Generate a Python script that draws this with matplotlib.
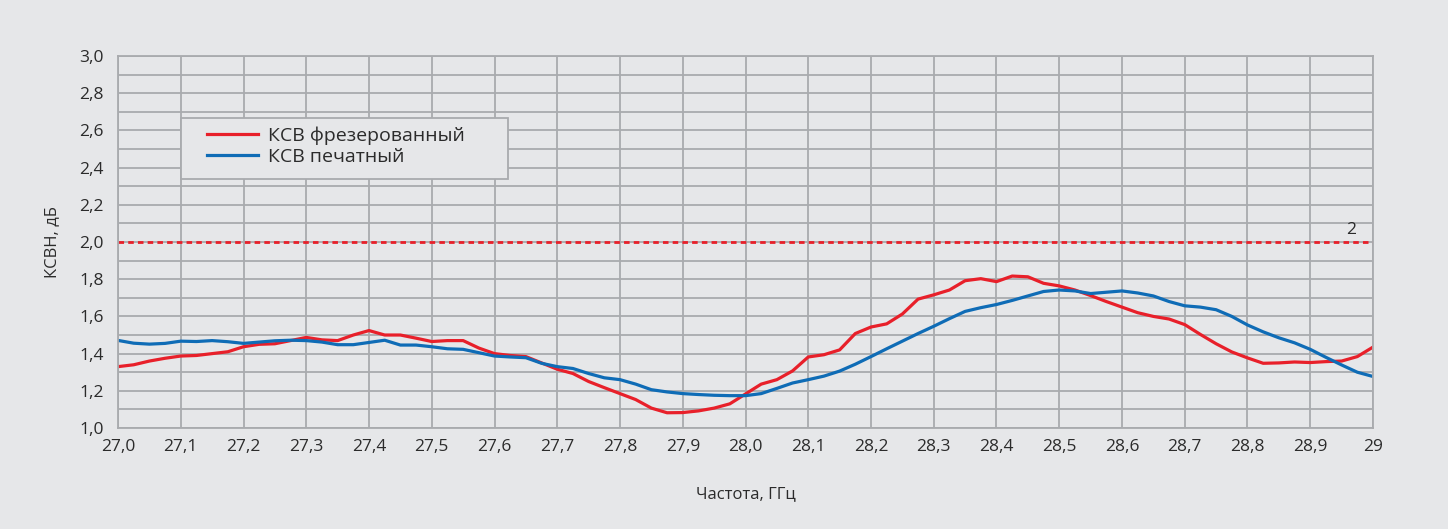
import matplotlib
matplotlib.use("Agg")
import matplotlib.pyplot as plt
from matplotlib.patches import Rectangle
from matplotlib.ticker import MultipleLocator, FixedLocator

plt.rcParams["font.family"] = ["Open Sans", "DejaVu Sans"]

BG = "#e6e7e9"
GRID = "#a9abae"
TEXT = "#2b2b2b"
RED = "#e8202a"
BLUE = "#0f6cb6"

freq = [27.0 + 0.025 * i for i in range(81)]

vswr_milled = [
    1.33, 1.34, 1.36, 1.375, 1.387, 1.39, 1.40, 1.41, 1.437, 1.45,
    1.453, 1.47, 1.487, 1.474, 1.47, 1.50, 1.524, 1.50, 1.50, 1.483,
    1.465, 1.47, 1.47, 1.43, 1.40, 1.39, 1.384, 1.35, 1.316, 1.293,
    1.25, 1.217, 1.185, 1.153, 1.107, 1.082, 1.083, 1.092, 1.107, 1.13,
    1.183, 1.236, 1.26, 1.307, 1.382, 1.394, 1.42, 1.508, 1.543, 1.56,
    1.613, 1.693, 1.716, 1.742, 1.792, 1.803, 1.787, 1.817, 1.813, 1.778,
    1.764, 1.742, 1.712, 1.68, 1.65, 1.62, 1.60, 1.586, 1.556, 1.503,
    1.453, 1.409, 1.377, 1.348, 1.35, 1.355, 1.352, 1.357, 1.36, 1.384,
    1.435,
]

vswr_printed = [
    1.471, 1.456, 1.451, 1.455, 1.467, 1.465, 1.47, 1.464, 1.455, 1.462,
    1.469, 1.472, 1.47, 1.462, 1.448, 1.448, 1.46, 1.472, 1.446, 1.446,
    1.437, 1.426, 1.423, 1.405, 1.387, 1.382, 1.378, 1.348, 1.33, 1.32,
    1.293, 1.27, 1.26, 1.236, 1.206, 1.194, 1.185, 1.18, 1.176, 1.174,
    1.174, 1.185, 1.213, 1.242, 1.26, 1.279, 1.306, 1.343, 1.384, 1.426,
    1.467, 1.508, 1.547, 1.588, 1.627, 1.647, 1.664, 1.686, 1.71, 1.734,
    1.742, 1.737, 1.723, 1.73, 1.737, 1.726, 1.71, 1.68, 1.657, 1.65,
    1.636, 1.60, 1.554, 1.517, 1.485, 1.458, 1.423, 1.38, 1.339, 1.30,
    1.277,
]

limit = 2.0
x_ticks = [27.0 + 0.1 * i for i in range(21)]
x_labels = [f"{v:.1f}".replace(".", ",") for v in x_ticks[:-1]] + ["29"]
y_ticks = [1.0 + 0.2 * i for i in range(11)]
y_labels = [f"{v:.1f}".replace(".", ",") for v in y_ticks]

fig = plt.figure(figsize=(14.48, 5.29), dpi=100, facecolor=BG)
ax = fig.add_axes([0.0815, 0.1909, 0.8667, 0.7032], facecolor=BG)

ax.set_xlim(27.0, 29.0)
ax.set_ylim(1.0, 3.0)
ax.xaxis.set_major_locator(FixedLocator(x_ticks))
ax.set_xticklabels(x_labels)
ax.yaxis.set_major_locator(FixedLocator(y_ticks))
ax.set_yticklabels(y_labels)
ax.yaxis.set_minor_locator(MultipleLocator(0.1))

ax.grid(which="major", color=GRID, linewidth=1.3)
ax.grid(which="minor", axis="y", color=GRID, linewidth=1.3)
ax.set_axisbelow(True)
for s in ax.spines.values():
    s.set_color(GRID)
    s.set_linewidth(1.3)
ax.tick_params(which="both", length=0, colors=TEXT, labelsize=12.5)
ax.tick_params(axis="x", pad=8)
ax.tick_params(axis="y", pad=10)

ax.axhline(limit, color=RED, linewidth=2, linestyle=(0, (2, 1.5)))
ax.text(28.965, limit + 0.02, "2", color=TEXT, fontsize=12.5, ha="center", va="bottom")

ax.plot(freq, vswr_milled, color=RED, linewidth=2.3, solid_joinstyle="round", label="КСВ фрезерованный")
ax.plot(freq, vswr_printed, color=BLUE, linewidth=2.3, solid_joinstyle="round", label="КСВ печатный")

# legend box drawn separately so its size matches the original
ax.add_patch(Rectangle((0.0502, 0.669), 0.2606, 0.164, transform=ax.transAxes,
                       facecolor=BG, edgecolor=GRID, linewidth=1.3, zorder=4))
leg = ax.legend(loc="upper left", bbox_to_anchor=(0.0709, 0.81), frameon=False,
                fontsize=14, handlelength=2.6, borderpad=0, labelspacing=0.12,
                borderaxespad=0, handletextpad=0.55)
leg.set_zorder(5)
for t in leg.get_texts():
    t.set_color(TEXT)

ax.set_xlabel("Частота, ГГц", color=TEXT, fontsize=12, labelpad=22)
ax.set_ylabel("КСВН, дБ", color=TEXT, fontsize=12, labelpad=14)

fig.savefig("out.png", dpi=100, facecolor=BG)
